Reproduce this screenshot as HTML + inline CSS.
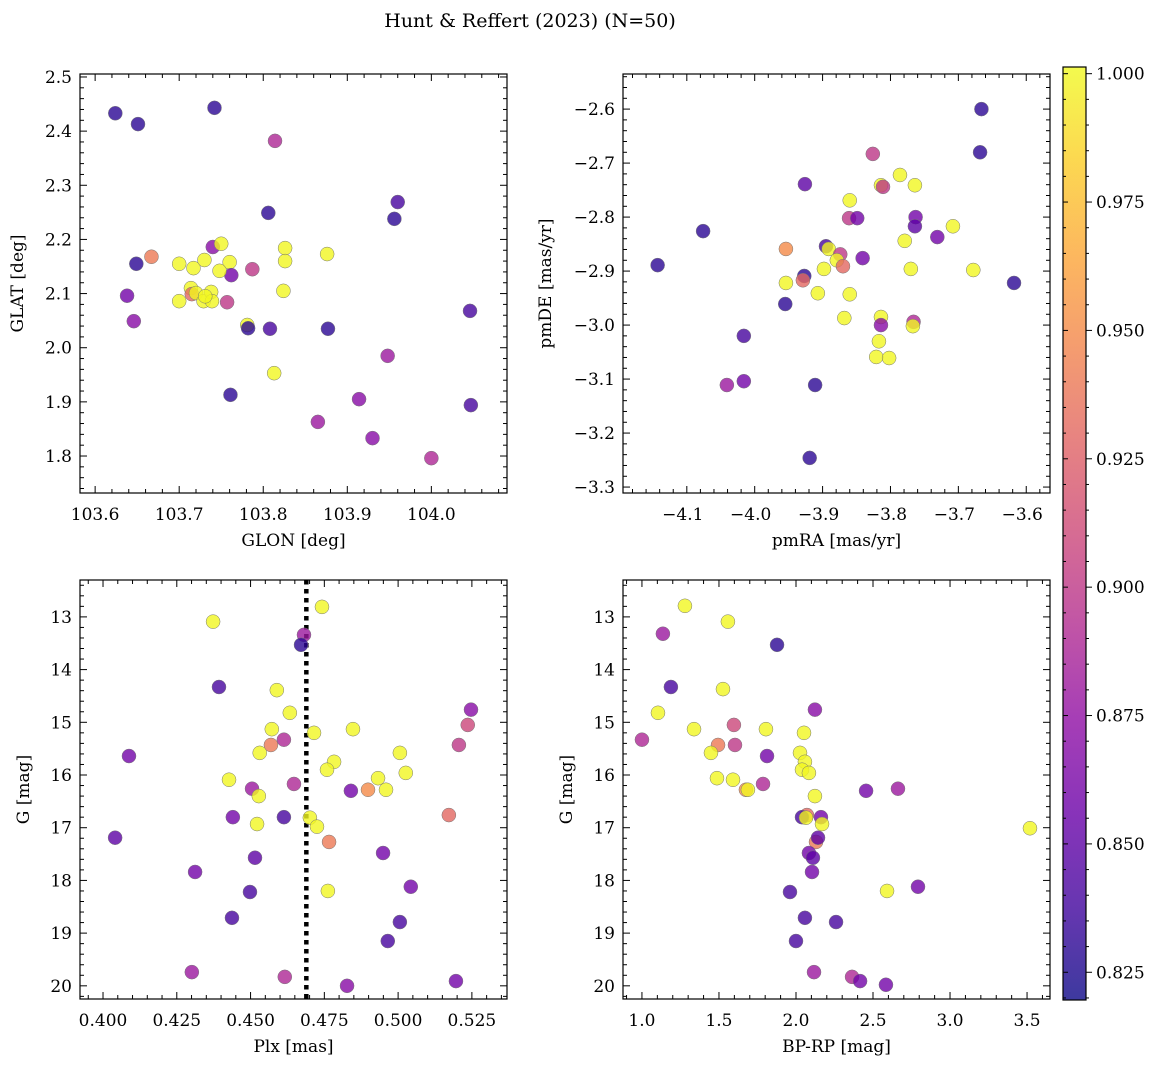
<!DOCTYPE html>
<html><head><meta charset="utf-8"><style>
body{margin:0;background:#fff;}
svg{display:block;font-family:"DejaVu Serif","Liberation Serif",serif;}
</style></head><body>
<svg id="fig" width="1160" height="1067" viewBox="0 0 1160 1067" xmlns="http://www.w3.org/2000/svg">
<rect width="1160" height="1067" fill="#fff"/>
<text x="530" y="27" font-size="19" text-anchor="middle">Hunt &amp; Reffert (2023) (N=50)</text>
</svg>
<script>
// Panel 1: GLON vs GLAT
const p1X=[103.624,103.651,103.742,103.814,103.806,103.960,103.956,103.649,103.667,103.638,103.646,103.700,103.717,103.730,103.740,103.750,103.760,103.762,103.748,103.714,103.715,103.720,103.700,103.729,103.738,103.739,103.757,103.731,103.787,103.826,103.826,103.824,103.876,103.781,103.782,103.808,103.877,103.813,103.761,104.046,104.047,103.948,103.914,103.865,103.930,104.0];
const p1Y=[2.433,2.413,2.443,2.382,2.249,2.269,2.238,2.155,2.168,2.096,2.049,2.155,2.147,2.162,2.186,2.192,2.158,2.134,2.142,2.110,2.099,2.101,2.086,2.086,2.103,2.086,2.084,2.095,2.145,2.184,2.160,2.105,2.173,2.042,2.036,2.035,2.035,1.953,1.913,2.068,1.894,1.985,1.905,1.863,1.833,1.796];
const p1C=[0.83,0.83,0.83,0.89,0.83,0.84,0.83,0.83,0.94,0.86,0.87,1.0,1.0,1.0,0.87,1.0,1.0,0.86,1.0,1.0,0.93,1.0,1.0,1.0,1.0,1.0,0.9,1.0,0.9,1.0,1.0,1.0,1.0,1.0,0.83,0.84,0.83,1.0,0.83,0.84,0.84,0.88,0.87,0.88,0.87,0.89];
// Panel 2: pmRA vs pmDE
const p2X=[-4.143,-4.076,-4.016,-4.016,-4.041,-3.926,-3.927,-3.929,-3.954,-3.954,-3.955,-3.911,-3.919,-3.895,-3.891,-3.874,-3.879,-3.870,-3.898,-3.907,-3.868,-3.861,-3.849,-3.860,-3.860,-3.841,-3.814,-3.811,-3.826,-3.814,-3.814,-3.817,-3.821,-3.802,-3.786,-3.764,-3.779,-3.763,-3.764,-3.770,-3.766,-3.767,-3.731,-3.708,-3.678,-3.666,-3.668,-3.618];
const p2Y=[-2.889,-2.826,-3.020,-3.104,-3.111,-2.739,-2.909,-2.917,-2.859,-2.922,-2.961,-3.111,-3.246,-2.854,-2.859,-2.869,-2.880,-2.891,-2.896,-2.941,-2.987,-2.802,-2.802,-2.769,-2.943,-2.876,-2.741,-2.744,-2.683,-2.985,-3.000,-3.030,-3.059,-3.061,-2.722,-2.741,-2.844,-2.800,-2.817,-2.896,-2.994,-3.002,-2.837,-2.817,-2.898,-2.600,-2.680,-2.922];
const p2C=[0.83,0.83,0.84,0.86,0.88,0.85,0.83,0.93,0.95,1.0,0.83,0.83,0.83,0.84,1.0,0.9,1.0,0.93,1.0,1.0,1.0,0.9,0.86,1.0,1.0,0.86,1.0,0.9,0.9,1.0,0.87,1.0,1.0,1.0,1.0,1.0,1.0,0.86,0.85,1.0,0.89,1.0,0.86,1.0,1.0,0.83,0.83,0.83];
// Panel 3: Plx vs G
const p3X=[0.4742,0.4373,0.4681,0.4671,0.4393,0.4589,0.4633,0.5247,0.4572,0.4847,0.4715,0.5236,0.5206,0.4569,0.4613,0.4531,0.5006,0.4088,0.4783,0.4759,0.5026,0.4427,0.4932,0.4647,0.4505,0.4840,0.4898,0.4959,0.4528,0.5172,0.4440,0.4613,0.4701,0.4522,0.4725,0.4766,0.4041,0.4949,0.4515,0.4312,0.5043,0.4762,0.4498,0.4437,0.5006,0.4965,0.4301,0.4616,0.5196,0.4827];
const p3Y=[12.81,13.09,13.34,13.53,14.33,14.39,14.82,14.76,15.13,15.13,15.20,15.05,15.43,15.43,15.33,15.58,15.58,15.64,15.75,15.90,15.96,16.09,16.06,16.17,16.26,16.30,16.28,16.28,16.40,16.76,16.80,16.80,16.81,16.93,16.98,17.27,17.19,17.48,17.57,17.84,18.12,18.20,18.22,18.71,18.79,19.15,19.74,19.83,19.91,20.00];
const p3C=[1.0,1.0,0.88,0.83,0.84,1.0,1.0,0.87,1.0,1.0,1.0,0.91,0.9,0.94,0.89,1.0,1.0,0.86,1.0,1.0,1.0,1.0,1.0,0.89,0.88,0.86,0.95,1.0,1.0,0.93,0.86,0.84,1.0,1.0,1.0,0.94,0.85,0.86,0.85,0.86,0.86,1.0,0.84,0.84,0.84,0.84,0.88,0.89,0.86,0.87];
// Panel 4: BP-RP vs G
const p4X=[1.279,1.558,1.136,1.877,1.188,1.526,1.104,2.123,1.338,1.805,2.052,1.597,1.604,1.494,1.0,1.448,2.026,1.812,2.058,2.039,2.084,1.591,1.487,1.786,1.675,1.688,2.455,2.662,2.123,2.071,2.039,2.162,2.065,2.169,2.130,2.143,3.519,2.084,2.110,2.104,2.792,2.591,1.961,2.058,2.260,2.0,2.117,2.364,2.584,2.416];
const p4Y=[12.79,13.09,13.32,13.53,14.33,14.37,14.82,14.76,15.13,15.13,15.20,15.05,15.43,15.43,15.33,15.58,15.58,15.64,15.75,15.90,15.96,16.09,16.06,16.17,16.28,16.28,16.30,16.26,16.40,16.76,16.80,16.80,16.81,16.93,17.27,17.19,17.01,17.48,17.57,17.84,18.12,18.20,18.22,18.71,18.79,19.15,19.74,19.83,19.98,19.91];
const p4C=[1.0,1.0,0.88,0.83,0.84,1.0,1.0,0.87,1.0,1.0,1.0,0.91,0.9,0.94,0.89,1.0,1.0,0.86,1.0,1.0,1.0,1.0,1.0,0.89,0.95,1.0,0.86,0.88,1.0,0.93,0.84,0.86,1.0,1.0,0.94,0.85,1.0,0.86,0.85,0.86,0.86,1.0,0.84,0.84,0.84,0.84,0.88,0.89,0.86,0.86];
const plxCut=[0.4689];
const cbTicks=[0.825,0.85,0.875,0.9,0.925,0.95,0.975,1.0];

const NS="http://www.w3.org/2000/svg";
const svg=document.getElementById('fig');
function mk(tag,attrs,parent){const e=document.createElementNS(NS,tag);for(const k in attrs)e.setAttribute(k,attrs[k]);(parent||svg).appendChild(e);return e;}
const plasma=[[13,8,135],[65,4,157],[106,0,168],[143,13,164],[177,42,144],[204,71,120],[225,100,98],[242,132,75],[252,166,54],[252,206,37],[240,249,33]];
const VMIN=0.8196,VMAX=1.0013;
function cmap(v){let t=(v-VMIN)/(VMAX-VMIN);t=Math.max(0,Math.min(1,t))*10;const i=Math.min(9,Math.floor(t)),f=t-i;const a=plasma[i],b=plasma[i+1];return `rgb(${Math.round(a[0]+(b[0]-a[0])*f)},${Math.round(a[1]+(b[1]-a[1])*f)},${Math.round(a[2]+(b[2]-a[2])*f)})`;}
function fmt(v,d){let s=v.toFixed(d);if(v<-1e-9)s='\u2212'+s.slice(1);return s;}

function panel(o){
  const g=mk('g',{});
  const {x0,x1,y0,y1}=o;
  const sx=v=>x0+(v-o.xd[0])/(o.xd[1]-o.xd[0])*(x1-x0);
  const sy=o.inv?(v=>y0+(v-o.yd[0])/(o.yd[1]-o.yd[0])*(y1-y0)):(v=>y1-(v-o.yd[0])/(o.yd[1]-o.yd[0])*(y1-y0));
  const tg=mk('g',{stroke:'#000','stroke-width':1},g);
  for(let v=Math.ceil(o.xd[0]/o.xmin-1e-6)*o.xmin;v<=o.xd[1];v+=o.xmin){const p=sx(v);const maj=Math.abs(v/o.xmaj-Math.round(v/o.xmaj))<1e-4;const L=maj?7:4;mk('line',{x1:p,x2:p,y1:y1,y2:y1-L},tg);mk('line',{x1:p,x2:p,y1:y0,y2:y0+L},tg);
    if(maj){const t=mk('text',{x:p-(v<0?4:0),y:y1+27,'font-size':17,'text-anchor':'middle',stroke:'none'},g);t.textContent=fmt(v,o.xdec);}}
  for(let v=Math.ceil(o.yd[0]/o.ymin-1e-6)*o.ymin;v<=o.yd[1];v+=o.ymin){const p=sy(v);const maj=Math.abs(v/o.ymaj-Math.round(v/o.ymaj))<1e-4;const L=maj?7:4;mk('line',{y1:p,y2:p,x1:x0,x2:x0+L},tg);mk('line',{y1:p,y2:p,x1:x1,x2:x1-L},tg);
    if(maj){const t=mk('text',{x:x0-8,y:p+6,'font-size':17,'text-anchor':'end',stroke:'none'},g);t.textContent=fmt(v,o.ydec);}}
  if(o.vline){const p=sx(o.vline[0]);const l=mk('line',{x1:p,x2:p,y1:y0,y2:y1,stroke:'#000','stroke-width':4.5,'stroke-dasharray':'4.5 4.5'},g);}
  for(let i=0;i<o.X.length;i++){const c=mk('circle',{cx:sx(o.X[i]),cy:sy(o.Y[i]),r:7,fill:cmap(o.C[i]),'fill-opacity':0.8,stroke:'#777','stroke-width':0.5},g);
    
    }
  mk('rect',{x:x0,y:y0,width:x1-x0,height:y1-y0,fill:'none',stroke:'#000','stroke-width':1.2},g);
  const xl=mk('text',{x:(x0+x1)/2,y:y1+53,'font-size':17,'text-anchor':'middle'},g);xl.textContent=o.xl;
  const yx=o.ylx,yy=(y0+y1)/2;const yl=mk('text',{x:yx,y:yy,'font-size':17,'text-anchor':'middle',transform:`rotate(-90 ${yx} ${yy})`},g);yl.textContent=o.yl;
}
panel({name:'glon-glat-panel',x0:80,x1:507,y0:74,y1:493,xd:[103.582,104.090],yd:[1.7317,2.5055],xmaj:0.1,xmin:0.02,ymaj:0.1,ymin:0.02,xdec:1,ydec:1,X:p1X,Y:p1Y,C:p1C,xl:'GLON [deg]',yl:'GLAT [deg]',ylx:23});
panel({name:'pm-panel',x0:623,x1:1050,y0:74,y1:493,xd:[-4.194,-3.565],yd:[-3.311,-2.535],xmaj:0.1,xmin:0.02,ymaj:0.1,ymin:0.02,xdec:1,ydec:1,X:p2X,Y:p2Y,C:p2C,xl:'pmRA [mas/yr]',yl:'pmDE [mas/yr]',ylx:551});
panel({name:'plx-g-panel',x0:80,x1:507,y0:580,y1:999,xd:[0.3922,0.5369],yd:[12.30,20.25],inv:true,xmaj:0.025,xmin:0.005,ymaj:1,ymin:0.2,xdec:3,ydec:0,X:p3X,Y:p3Y,C:p3C,xl:'Plx [mas]',yl:'G [mag]',ylx:29,vline:plxCut});
panel({name:'cmd-panel',x0:623,x1:1050,y0:580,y1:999,xd:[0.877,3.649],yd:[12.30,20.25],inv:true,xmaj:0.5,xmin:0.1,ymaj:1,ymin:0.2,xdec:1,ydec:0,X:p4X,Y:p4Y,C:p4C,xl:'BP-RP [mag]',yl:'G [mag]',ylx:572});

const cb=mk('g',{});
const cx0=1063,cx1=1086,cy0=67,cy1=1000;
const defs=mk('defs',{},cb);const gr=mk('linearGradient',{id:'cbg',x1:0,y1:1,x2:0,y2:0},defs);
for(let i=0;i<=20;i++){const v=VMIN+(VMAX-VMIN)*i/20;mk('stop',{offset:i/20,'stop-color':cmap(v),'stop-opacity':0.8},gr);}
mk('rect',{x:cx0,y:cy0,width:cx1-cx0,height:cy1-cy0,fill:'url(#cbg)',stroke:'#000','stroke-width':1.2},cb);
const cy=v=>cy1-(v-VMIN)/(VMAX-VMIN)*(cy1-cy0);
for(let v=0.82;v<=1.0005;v+=0.005){const p=cy(v);if(p<cy0||p>cy1)continue;const maj=Math.abs(v/0.025-Math.round(v/0.025))<1e-4;mk('line',{x1:cx1,x2:cx1+(maj?6:3),y1:p,y2:p,stroke:'#000'},cb);mk('line',{x1:cx0,x2:cx0+(maj?5:3),y1:p,y2:p,stroke:'#000'},cb);}
cbTicks.forEach(v=>{const t=mk('text',{x:cx1+10,y:cy(v)+6,'font-size':17},cb);t.textContent=v.toFixed(3);});
</script>
</body></html>
